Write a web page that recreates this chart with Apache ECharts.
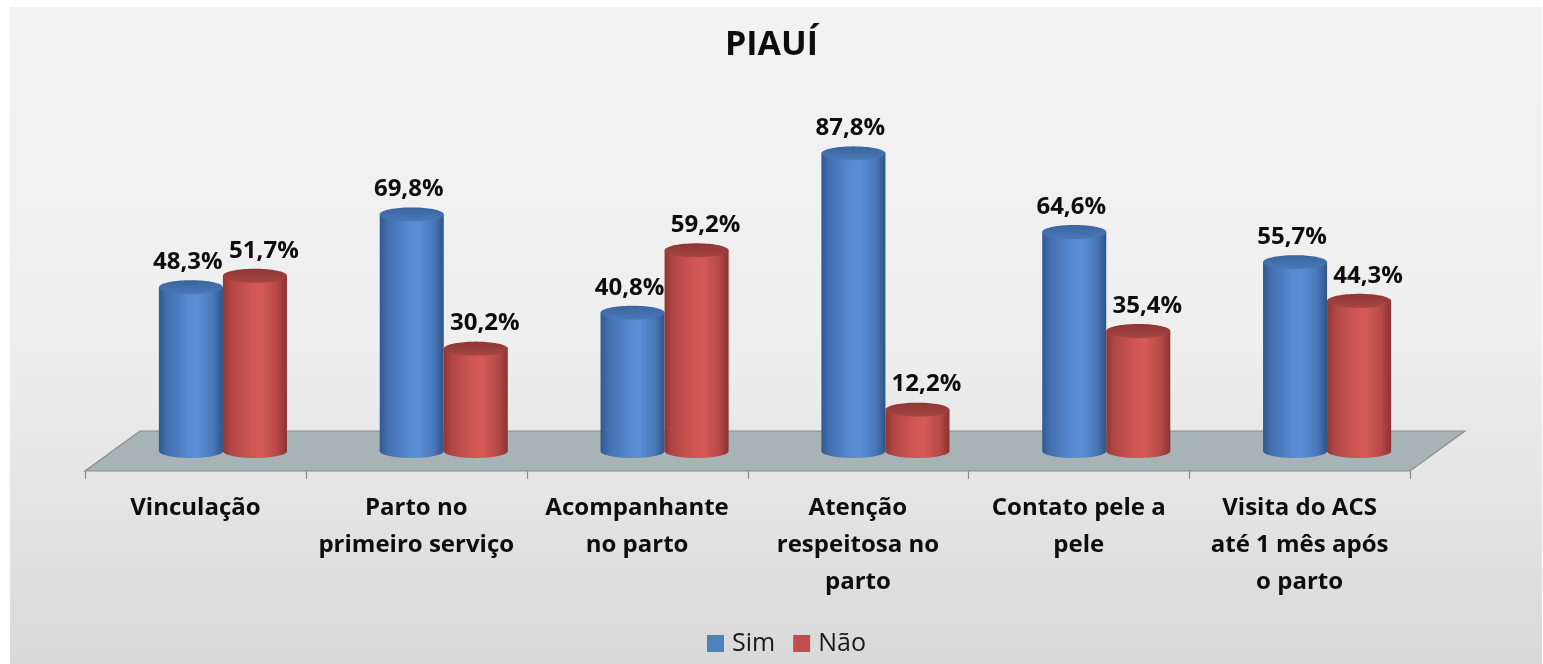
<!DOCTYPE html>
<html><head><meta charset="utf-8">
<script src="https://cdn.jsdelivr.net/npm/echarts@6/dist/echarts.min.js"></script>
<style>html,body{margin:0;padding:0;background:#fff}#c{width:1543px;height:664px}</style>
</head><body><div id="c"></div>
<script>
const categories = ['Vinculação', 'Parto no\nprimeiro serviço', 'Acompanhante\nno parto', 'Atenção\nrespeitosa no\nparto', 'Contato pele a\npele', 'Visita do ACS\naté 1 mês após\no parto'];
const simValues = [48.3, 69.8, 40.8, 87.8, 64.6, 55.7];
const naoValues = [51.7, 30.2, 59.2, 12.2, 35.4, 44.3];
const seriesNames = ['Sim', 'Não'];
const chartTitle = 'PIAUÍ';

const DEPTH_X = 27.5, DEPTH_Y = 20, RY = 7;
const LABEL_DX = [-3, 9];
const FONT = '"Open Sans", Lato, sans-serif';

const palettes = [
  { legend: '#4f81bd', body: ['#32598f', '#426fae', '#5689cf', '#5a8fd6', '#4877b8', '#2f5486'], cap: ['#3a649e', '#4a79b9'] },
  { legend: '#c0504d', body: ['#8f3533', '#b04644', '#d05654', '#d55a57', '#b54947', '#8a3331'], cap: ['#8e3735', '#a54542'] }
];
const bodyStops = [0, 0.12, 0.45, 0.6, 0.85, 1];

function fmt(v) { return v.toFixed(1).replace('.', ',') + '%'; }

function hGrad(cols) {
  return new echarts.graphic.LinearGradient(0, 0, 1, 0, cols.map((c, i) => ({ offset: bodyStops[i], color: c })));
}

function makeCylinder(sIdx) {
  const pal = palettes[sIdx];
  return function (params, api) {
    const cat = api.value(0), val = api.value(1);
    const top = api.coord([cat, val]);
    const base = api.coord([cat, 0]);
    const band = api.size([1, 0])[0];
    const w = band * 0.29;
    const rx = w / 2;
    const cx = top[0] + DEPTH_X + (sIdx === 0 ? -rx : rx);
    const yTop = top[1], yBase = base[1];
    const N = 40;
    const body = [[cx - rx, yTop]];
    for (let i = 0; i <= N; i++) {
      const t = Math.PI * i / N;
      body.push([cx - rx * Math.cos(t), yBase + RY * Math.sin(t)]);
    }
    body.push([cx + rx, yTop]);
    const cap = [];
    for (let i = 0; i < 2 * N; i++) {
      const t = Math.PI * i / N;
      cap.push([cx + rx * Math.cos(t), yTop + RY * Math.sin(t)]);
    }
    return {
      type: 'group',
      children: [
        { type: 'polygon', shape: { points: body }, style: { fill: hGrad(pal.body), stroke: null } },
        { type: 'polygon', shape: { points: cap }, style: { fill: new echarts.graphic.LinearGradient(0, 0, 0, 1, [{ offset: 0, color: pal.cap[0] }, { offset: 1, color: pal.cap[1] }]), stroke: null } },
        { type: 'text', style: { text: fmt(val), x: cx + LABEL_DX[sIdx], y: yTop - 25, align: 'center', verticalAlign: 'middle', font: 'bold 24px ' + FONT, fill: '#0d0d0d' } }
      ]
    };
  };
}

function renderFloor(params, api) {
  const cs = params.coordSys;
  const x0 = cs.x, W = cs.width, yb = cs.y + cs.height;
  const n = categories.length;
  const band = W / n;
  const children = [
    { type: 'polygon', shape: { points: [[x0, yb + DEPTH_Y], [x0 + W, yb + DEPTH_Y], [x0 + W + 2 * DEPTH_X, yb - DEPTH_Y], [x0 + 2 * DEPTH_X, yb - DEPTH_Y]] },
      style: { fill: '#a7b3b5', stroke: '#8c8c8c', lineWidth: 1.2 } }
  ];
  for (let i = 0; i <= n; i++) {
    const x = Math.round(x0 + i * band) + 0.5;
    children.push({ type: 'line', shape: { x1: x, y1: yb + DEPTH_Y, x2: x, y2: yb + DEPTH_Y + 8 }, style: { stroke: '#8c8c8c', lineWidth: 1.2 } });
  }
  return { type: 'group', children };
}

const chart = echarts.init(document.getElementById('c'), null, { renderer: 'canvas' });
chart.setOption({
  backgroundColor: '#ffffff',
  animation: false,
  graphic: [{
    type: 'rect', z: -10, silent: true,
    shape: { x: 10, y: 7, width: 1532, height: 657 },
    style: { fill: new echarts.graphic.LinearGradient(0, 0, 0, 1, [{ offset: 0, color: '#f2f2f2' }, { offset: 0.5, color: '#efefef' }, { offset: 1, color: '#d9d9d9' }]) }
  }],
  title: {
    text: chartTitle, left: 'center', top: 23,
    textStyle: { fontFamily: FONT, fontWeight: 'bold', fontSize: 34, color: '#0d0d0d' }
  },
  legend: {
    data: seriesNames, left: 702, top: 626, icon: 'rect', itemWidth: 17, itemHeight: 17, itemGap: 18,
    textStyle: { fontFamily: FONT, fontSize: 25, color: '#1a1a1a', padding: [0, 0, 0, 3] }
  },
  grid: { left: 85, right: 133, top: 112, bottom: 213 },
  xAxis: {
    type: 'category', data: categories,
    axisLine: { show: false }, axisTick: { show: false },
    axisLabel: { interval: 0, margin: 39, fontFamily: FONT, fontWeight: 'bold', fontSize: 24, lineHeight: 37, color: '#0d0d0d' }
  },
  yAxis: { type: 'value', min: 0, max: 100, show: false },
  series: [
    { type: 'custom', name: 'floor', silent: true, z: 1, renderItem: renderFloor, data: [[0, 0]] },
    { type: 'custom', name: seriesNames[0], z: 2, itemStyle: { color: palettes[0].legend }, renderItem: makeCylinder(0), data: simValues.map((v, i) => [i, v]) },
    { type: 'custom', name: seriesNames[1], z: 3, itemStyle: { color: palettes[1].legend }, renderItem: makeCylinder(1), data: naoValues.map((v, i) => [i, v]) }
  ]
});
</script></body></html>
